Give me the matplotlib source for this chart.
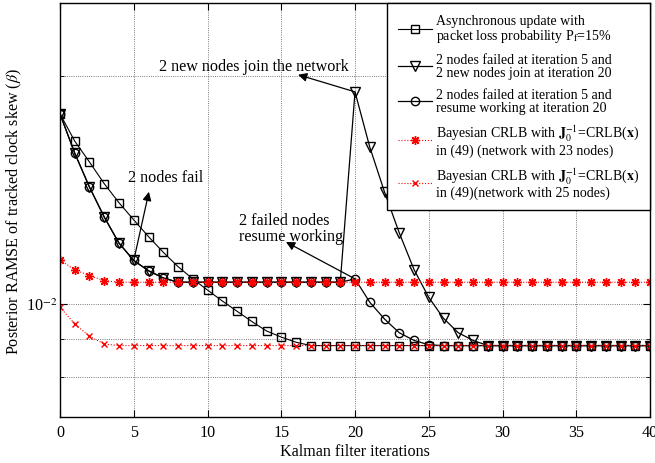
import numpy as np
import matplotlib
matplotlib.use('Agg')
import matplotlib.pyplot as plt
from matplotlib.ticker import LogLocator, NullFormatter, FixedLocator

plt.rcParams['font.family'] = ['Liberation Serif', 'DejaVu Serif']
plt.rcParams['mathtext.fontset'] = 'stix'

# iteration index and RAMSE curves
iters = np.arange(41)

async_loss = [0.01782, 0.01640, 0.01539, 0.01441, 0.01360, 0.01291, 0.01227,
              0.01170, 0.01120, 0.01079, 0.01043, 0.01009, 0.00978, 0.00948,
              0.00921, 0.00904, 0.00890] + [0.00881] * 24

fail_then_join = [0.01782, 0.01581, 0.01426, 0.01302, 0.01203, 0.01141, 0.01106,
                  0.01082] + [0.01068] * 12 + \
                 [0.01905, 0.01611, 0.01405, 0.01241, 0.01110, 0.01020, 0.00957,
                  0.00916, 0.00895] + [0.00881] * 12

fail_then_resume = [0.01782, 0.01581, 0.01426, 0.01302, 0.01203, 0.01141, 0.01106,
                    0.01082] + [0.01068] * 12 + \
                   [0.01079, 0.01005, 0.00955, 0.00916, 0.00895, 0.00883] + [0.00881] * 15

crlb_23 = [0.01143, 0.01109, 0.01090, 0.01073] + [0.01068] * 37
crlb_25 = [0.00990, 0.00941, 0.00906, 0.00885] + [0.00881] * 37

labels = [
    'Asynchronous update with\npacket loss probability P$_\\mathrm{f}$=15%',
    '2 nodes failed at iteration 5 and\n2 new nodes join at iteration 20',
    '2 nodes failed at iteration 5 and\nresume working at iteration 20',
    'Bayesian CRLB with $\\mathbf{J}_0^{-1}$=CRLB($\\mathbf{x}$)\nin (49) (network with 23 nodes)',
    'Bayesian CRLB with $\\mathbf{J}_0^{-1}$=CRLB($\\mathbf{x}$)\nin (49)(network with 25 nodes)',
]

fs = 11.6

fig = plt.figure(figsize=(6.55, 4.64), dpi=100)
ax = fig.add_axes([0.0916, 0.0991, 0.9008, 0.8923])

ax.plot(iters, async_loss, 'k-', marker='s', mfc='none', ms=6, lw=0.8, label=labels[0])
ax.plot(iters, fail_then_join, 'k-', marker='v', mfc='none', ms=6.5, lw=0.9, label=labels[1])
ax.plot(iters, fail_then_resume, 'k-', marker='o', mfc='none', ms=6, lw=0.9, label=labels[2])
ax.plot(iters, crlb_23, 'r:', marker=(8, 2, 0), ms=6.5, mew=1.0, lw=0.8, label=labels[3])
ax.plot(iters, crlb_25, 'r:', marker='x', ms=5, mew=1.0, lw=0.8, label=labels[4])

ax.set_yscale('log')
ax.set_xlim(0, 40)
ax.set_ylim(0.00709, 0.02496)
ax.set_xticks(np.arange(0, 41, 5))
ax.yaxis.set_major_locator(FixedLocator([0.01]))
ax.yaxis.set_minor_locator(LogLocator(base=10, subs=np.arange(2, 10)))
ax.yaxis.set_minor_formatter(NullFormatter())
ax.set_yticklabels(['10$^{-2}$'])

ax.tick_params(which='both', direction='in', top=True, right=True, labelsize=fs)
ax.tick_params(which='major', length=5)
ax.tick_params(axis='x', which='major', pad=5)
ax.tick_params(axis='y', which='major', pad=2)
ax.tick_params(which='minor', length=3)
ax.grid(True, which='major', axis='both', ls=':', color='k', lw=0.6, alpha=0.7)
ax.grid(True, which='minor', axis='y', ls=':', color='k', lw=0.6, alpha=0.7)
for sp in ax.spines.values():
    sp.set_linewidth(1.0)

ax.set_xlabel('Kalman filter iterations', fontsize=fs, labelpad=2)
ax.set_ylabel('Posterior RAMSE of tracked clock skew ($\\beta$)', fontsize=fs, labelpad=1)

# event annotations
arrow = dict(arrowstyle='-|>', color='k', lw=0.9, mutation_scale=13, shrinkA=0, shrinkB=0)
ax.annotate('', xy=(6.03, 0.01406), xytext=(5, 0.01141), arrowprops=arrow)
ax.text(4.6, 0.01472, '2 nodes fail', fontsize=fs, va='center', ha='left')

ax.annotate('', xy=(16.14, 0.02007), xytext=(20, 0.01905), arrowprops=arrow)
ax.text(6.7, 0.02063, '2 new nodes join the network', fontsize=fs, va='center', ha='left')

ax.annotate('', xy=(15.32, 0.01207), xytext=(20, 0.01079), arrowprops=arrow)
ax.text(12.14, 0.01260, '2 failed nodes\nresume working', fontsize=fs, va='center',
        ha='left', linespacing=0.95)

leg = ax.legend(loc='upper right', bbox_to_anchor=(1.0, 1.0), borderaxespad=0,
                fontsize=10, frameon=True, fancybox=False, edgecolor='k',
                framealpha=1, handlelength=2.4, handletextpad=0.3, labelspacing=0.65,
                borderpad=0.8)
leg.get_frame().set_linewidth(1.0)
for t in leg.get_texts():
    t.set_linespacing(1.0)

fig.savefig('out.png', dpi=100)
